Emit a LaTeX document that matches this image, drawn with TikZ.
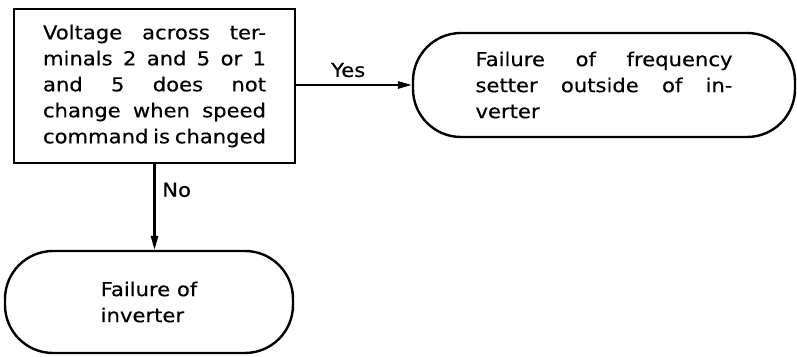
\documentclass[tikz,border=0pt]{standalone}
\usepackage{fontspec}
\setmainfont[FakeStretch=1.1,FakeBold=0.4]{DejaVu Sans}
\usetikzlibrary{arrows.meta}

\newcommand{\jrow}[2]{\makebox[#1][s]{#2}}

\begin{document}
\begin{tikzpicture}[x=0.5pt,y=-0.5pt,
		txt/.style={font=\fontsize{9.6}{13}\selectfont},
		box/.style={draw,line width=1.2pt,txt,align=left},
		term/.style={draw,line width=1.2pt,rounded corners=24pt,txt,align=left},
		arr/.style={line width=1.1pt,-{Triangle[length=7pt,width=3.6pt]}}]
		\useasboundingbox (0,0) rectangle (797,357);
		\node[box,minimum width=140.5pt,minimum height=77pt] (cond) at (154.5,86) {\jrow{111.5pt}{Voltage across ter-}\\
			\jrow{111.5pt}{minals 2 and 5 or 1}\\
			\jrow{111.5pt}{and 5 does not}\\
			\jrow{111.5pt}{change when speed}\\
			\jrow{111.5pt}{command is changed}};
		\node[term,minimum width=191pt,minimum height=52pt] (setter) at (604,85) {\jrow{128.5pt}{Failure of frequency}\\
			\jrow{128.5pt}{setter outside of in-}\\
			verter};
		\node[term,minimum width=144pt,minimum height=51pt] (inverter) at (149,302) {Failure of\\inverter};
		\draw[arr] (cond.east |- setter.west) -- node[above,txt,pos=0.45] (yes) {Yes} (setter.west);
		\draw[arr] (cond.south) -- node[right,txt,pos=0.3] (no) {No} (cond.south |- inverter.north);
	\end{tikzpicture}
\end{document}
